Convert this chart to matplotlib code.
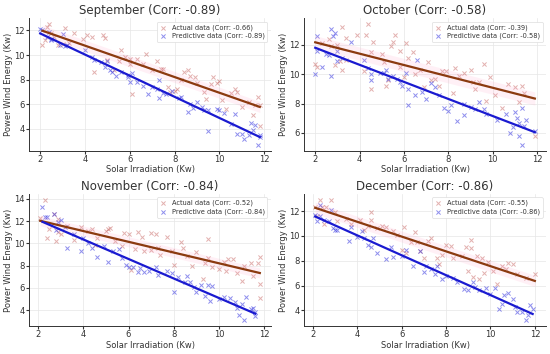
import numpy as np
import matplotlib.pyplot as plt

# (x, y) points for each month
sep_actual_x = [2.1, 2.2, 2.3, 2.4, 2.5, 2.6, 2.8, 3.0, 3.1, 3.3, 3.5, 3.9, 4.1, 4.3, 4.4, 4.8, 4.9, 5.0, 5.3, 5.5,
                5.6, 5.8, 6.0, 6.0, 6.1, 6.3, 6.6, 6.7, 7.0, 7.2, 7.4, 7.5, 7.7, 7.8, 8.0, 8.1, 8.3, 8.4, 8.6, 8.7,
                8.9, 9.0, 9.3, 9.4, 9.6, 9.7, 9.9, 10.0, 10.1, 10.3, 10.5, 10.7, 10.8, 11.0, 11.3, 11.5, 11.6, 11.7, 11.8, 11.8]
sep_actual_y = [10.8, 11.2, 12.3, 12.5, 11.8, 11.5, 10.8, 10.9, 12.2, 11.0, 11.8, 11.3, 11.6, 11.5, 8.6, 11.6, 11.4, 9.6, 8.8, 9.5,
                10.4, 9.8, 9.7, 9.3, 6.8, 9.7, 9.3, 10.1, 8.8, 9.5, 8.9, 8.9, 7.4, 7.0, 7.1, 7.2, 8.0, 8.6, 8.8, 8.3,
                8.2, 7.7, 7.0, 6.4, 7.6, 8.2, 7.7, 7.9, 6.3, 5.6, 6.9, 7.2, 7.0, 5.8, 6.2, 5.1, 5.9, 6.6, 5.9, 4.2]
sep_pred_x = [2.0, 2.1, 2.3, 2.4, 2.5, 2.5, 2.9, 3.0, 3.1, 3.2, 4.0, 4.3, 4.4, 4.7, 4.9, 5.0, 5.1, 5.2, 5.4, 5.6,
              5.9, 5.9, 6.0, 6.1, 6.3, 6.6, 6.8, 7.0, 7.2, 7.3, 7.3, 7.5, 7.6, 7.9, 8.2, 8.3, 8.6, 8.7, 8.8, 9.0,
              9.2, 9.3, 9.5, 9.5, 9.9, 10.0, 10.2, 10.5, 10.7, 10.8, 11.0, 11.1, 11.3, 11.4, 11.5, 11.6, 11.7, 11.8, 11.8]
sep_pred_y = [12.1, 12.0, 11.5, 11.9, 11.3, 11.2, 10.8, 11.7, 10.7, 10.8, 10.4, 9.8, 9.6, 9.4, 9.0, 9.5, 8.8, 8.6, 8.3, 8.6,
              8.4, 8.2, 7.8, 8.5, 7.8, 7.5, 6.8, 7.4, 7.2, 6.5, 8.0, 6.9, 6.8, 7.1, 6.5, 6.6, 5.4, 6.0, 5.7, 6.2,
              5.8, 5.5, 5.5, 3.8, 5.6, 5.5, 5.3, 4.4, 5.2, 3.6, 3.6, 3.2, 3.5, 4.5, 3.9, 4.3, 2.7, 3.3, 3.5]

oct_actual_x = [2.0, 2.1, 2.3, 2.6, 2.7, 2.9, 3.0, 3.1, 3.2, 3.2, 3.4, 3.4, 3.9, 4.2, 4.3, 4.4, 4.5, 4.5, 4.6, 5.0,
                5.1, 5.2, 5.3, 5.4, 5.5, 5.6, 5.8, 5.8, 6.0, 6.1, 6.2, 6.4, 6.5, 6.7, 6.9, 7.1, 7.2, 7.4, 7.6, 7.7,
                7.9, 8.2, 8.3, 8.5, 8.7, 9.0, 9.1, 9.2, 9.4, 9.6, 9.7, 9.9, 10.1, 10.4, 10.7, 11.0, 11.2, 11.3, 11.4, 11.9]
oct_actual_y = [10.7, 10.5, 12.1, 12.4, 11.9, 10.6, 12.0, 10.9, 10.3, 13.2, 12.5, 11.0, 12.7, 10.2, 12.7, 13.4, 11.5, 9.0, 12.2, 11.4,
                10.8, 9.2, 9.6, 11.9, 12.2, 12.7, 11.6, 10.5, 9.8, 12.1, 11.1, 11.5, 10.0, 10.3, 9.1, 10.8, 9.6, 9.7, 9.2, 10.2,
                10.2, 8.7, 10.4, 9.9, 10.1, 10.3, 9.5, 9.0, 9.5, 10.7, 8.2, 9.8, 8.6, 7.7, 9.3, 9.1, 8.1, 9.2, 8.7, 5.8]
oct_pred_x = [2.0, 2.1, 2.1, 2.3, 2.5, 2.6, 2.7, 2.7, 2.8, 2.9, 3.0, 3.0, 3.2, 3.6, 4.2, 4.4, 4.5, 4.5, 4.9, 5.1,
              5.2, 5.3, 5.5, 5.7, 5.8, 5.9, 6.1, 6.2, 6.2, 6.5, 6.6, 6.8, 7.0, 7.2, 7.4, 7.6, 7.8, 8.0, 8.1, 8.4,
              8.7, 8.7, 9.0, 9.2, 9.4, 9.6, 9.7, 10.2, 10.6, 10.8, 10.9, 11.0, 11.1, 11.2, 11.2, 11.3, 11.3, 11.4, 11.5, 11.9]
oct_pred_y = [10.0, 11.6, 12.6, 10.5, 11.4, 11.3, 13.1, 9.9, 12.6, 12.8, 11.6, 10.9, 11.1, 12.2, 11.0, 10.4, 10.0, 9.6, 10.1, 10.1,
              10.3, 9.7, 9.9, 9.7, 9.5, 9.2, 10.1, 7.9, 9.0, 8.6, 11.0, 8.8, 8.3, 9.4, 9.1, 8.6, 7.7, 7.5, 7.9, 6.8,
              7.2, 8.0, 7.8, 7.6, 8.1, 7.6, 7.3, 6.9, 7.3, 6.0, 6.4, 7.4, 7.0, 6.7, 5.8, 5.2, 7.7, 6.5, 6.9, 6.1]

nov_actual_x = [2.1, 2.3, 2.4, 2.5, 2.7, 2.8, 2.9, 2.9, 3.0, 3.3, 3.6, 3.9, 4.2, 4.4, 4.5, 4.6, 5.0, 5.1, 5.2, 5.4,
                5.7, 5.8, 6.0, 6.1, 6.3, 6.4, 6.6, 6.7, 7.0, 7.0, 7.2, 7.3, 7.4, 7.7, 7.9, 8.0, 8.3, 8.4, 8.6, 8.8,
                9.0, 9.3, 9.4, 9.5, 9.5, 9.7, 10.0, 10.2, 10.3, 10.4, 10.6, 10.8, 11.0, 11.1, 11.4, 11.5, 11.7, 11.8, 11.8, 11.8]
nov_actual_y = [12.3, 13.9, 10.5, 11.3, 12.6, 10.2, 12.2, 11.0, 10.8, 11.6, 10.3, 11.5, 11.1, 11.3, 9.9, 10.5, 11.1, 11.3, 11.4, 10.2,
                9.8, 10.9, 10.8, 7.6, 9.5, 11.0, 10.6, 9.3, 9.4, 10.9, 10.8, 9.6, 9.0, 10.6, 9.3, 8.1, 10.1, 9.6, 8.9, 8.0,
                9.2, 6.8, 8.2, 10.4, 8.7, 7.9, 7.7, 8.3, 7.5, 8.6, 8.6, 7.3, 6.6, 8.0, 8.2, 7.1, 8.2, 8.8, 6.4, 5.1]
nov_pred_x = [2.2, 2.3, 2.4, 2.7, 2.8, 2.9, 3.0, 3.2, 3.3, 3.6, 3.9, 4.0, 4.2, 4.4, 4.6, 4.9, 5.1, 5.3, 5.6, 5.7,
              5.9, 6.0, 6.2, 6.4, 6.5, 6.7, 6.9, 7.2, 7.3, 7.7, 7.9, 8.0, 8.2, 8.5, 8.6, 8.7, 8.9, 9.0, 9.2, 9.4,
              9.5, 9.6, 9.7, 10.0, 10.2, 10.5, 10.7, 10.8, 10.9, 11.0, 11.1, 11.2, 11.4, 11.5, 11.6, 11.6]
nov_pred_y = [13.3, 12.4, 12.4, 12.6, 11.2, 11.9, 12.1, 11.5, 9.6, 10.8, 9.3, 10.5, 10.0, 9.6, 8.8, 9.8, 8.3, 9.3, 9.5, 8.7,
              8.1, 7.9, 7.9, 7.4, 7.8, 7.4, 7.5, 7.9, 7.2, 7.5, 7.3, 5.6, 7.0, 6.5, 7.1, 6.5, 6.1, 5.6, 6.3, 5.3,
              6.3, 4.8, 6.2, 5.0, 5.2, 5.1, 4.7, 4.2, 3.6, 4.6, 3.1, 5.2, 4.1, 4.2, 3.5, 3.8]

dec_actual_x = [2.1, 2.2, 2.3, 2.4, 2.5, 2.6, 2.8, 3.0, 3.1, 3.5, 3.7, 4.1, 4.3, 4.5, 4.6, 4.6, 4.9, 5.1, 5.3, 5.6,
                5.8, 6.0, 6.1, 6.2, 6.4, 6.6, 6.7, 6.8, 7.0, 7.2, 7.3, 7.6, 7.7, 7.8, 8.0, 8.2, 8.3, 8.7, 8.9, 9.0,
                9.1, 9.1, 9.2, 9.4, 9.5, 9.6, 9.7, 9.9, 10.1, 10.3, 10.5, 10.7, 10.8, 11.0, 11.2, 11.6, 12.0]
dec_actual_y = [12.3, 11.6, 12.9, 12.3, 11.0, 12.3, 12.9, 11.9, 11.2, 11.4, 11.0, 11.3, 10.5, 10.8, 11.9, 11.3, 10.6, 10.8, 10.7, 10.4,
                10.1, 8.9, 10.7, 8.6, 9.5, 10.3, 9.5, 8.8, 8.2, 9.6, 9.8, 8.2, 7.7, 8.5, 9.3, 9.2, 8.2, 8.4, 9.1, 7.2,
                9.7, 9.0, 6.7, 8.4, 6.5, 8.2, 7.0, 7.9, 7.2, 6.1, 7.6, 7.3, 7.8, 7.7, 6.9, 6.6, 6.9]
dec_pred_x = [2.1, 2.2, 2.3, 2.3, 2.5, 2.7, 2.8, 2.9, 3.0, 3.1, 3.6, 3.7, 4.0, 4.2, 4.3, 4.5, 4.6, 4.7, 4.9, 5.3,
              5.5, 5.6, 6.0, 6.2, 6.5, 6.8, 7.0, 7.1, 7.3, 7.5, 7.6, 7.8, 8.0, 8.3, 8.5, 8.8, 9.0, 9.2, 9.3, 9.5,
              9.8, 10.0, 10.2, 10.4, 10.5, 10.6, 10.8, 11.0, 11.1, 11.2, 11.4, 11.6, 11.7, 11.8, 11.9]
dec_pred_y = [11.7, 11.2, 12.5, 11.6, 11.3, 11.2, 12.1, 10.6, 10.5, 10.5, 9.6, 10.7, 9.9, 10.4, 9.8, 9.3, 9.1, 9.8, 8.6, 8.1,
              9.1, 8.3, 8.4, 8.9, 7.6, 8.8, 7.1, 7.6, 7.3, 6.9, 7.6, 6.5, 6.8, 6.6, 6.3, 5.7, 5.6, 6.3, 5.9, 5.6,
              5.8, 5.3, 5.8, 4.1, 4.5, 5.2, 5.4, 4.9, 4.3, 3.9, 3.9, 3.2, 3.6, 4.4, 4.1]

months = ["September", "October", "November", "December"]
title_corr = [-0.89, -0.58, -0.84, -0.86]
actual_corr = [-0.66, -0.39, -0.52, -0.55]
pred_corr = [-0.89, -0.58, -0.84, -0.86]
actual_x = [sep_actual_x, oct_actual_x, nov_actual_x, dec_actual_x]
actual_y = [sep_actual_y, oct_actual_y, nov_actual_y, dec_actual_y]
pred_x = [sep_pred_x, oct_pred_x, nov_pred_x, dec_pred_x]
pred_y = [sep_pred_y, oct_pred_y, nov_pred_y, dec_pred_y]

fig, axes = plt.subplots(2, 2, figsize=(5.5, 3.54), dpi=100)

for i, ax in enumerate(axes.flat):
    ax_x = np.array(actual_x[i])
    ax_y = np.array(actual_y[i])
    px = np.array(pred_x[i])
    py = np.array(pred_y[i])

    ax.scatter(ax_x, ax_y, marker='x', s=9, linewidths=0.7, color='#c0504d', alpha=0.45,
               label=f"Actual data (Corr: {actual_corr[i]:.2f})")
    ax.scatter(px, py, marker='x', s=9, linewidths=0.7, color='#3030e0', alpha=0.55,
               label=f"Predictive data (Corr: {pred_corr[i]:.2f})")

    # fitted lines
    m, b = np.polyfit(ax_x, ax_y, 1)
    xs = np.array([ax_x.min(), ax_x.max()])
    ax.fill_between(xs, m * xs + b - 0.45, m * xs + b + 0.45, color='#ff9ec4', alpha=0.15, lw=0)
    ax.plot(xs, m * xs + b, color='#8b3a0f', lw=1.6)
    m, b = np.polyfit(px, py, 1)
    xs = np.array([px.min(), px.max()])
    ax.plot(xs, m * xs + b, color='#1a1ad0', lw=1.6)

    ax.set_title(f"{months[i]} (Corr: {title_corr[i]:.2f})", fontsize=8.5, color='#333333', pad=3)
    ax.set_xlabel("Solar Irradiation (Kw)", fontsize=6, color='#333333', labelpad=1)
    ax.set_ylabel("Power Wind Energy (Kw)", fontsize=6, color='#333333', labelpad=1)
    ax.set_xticks([2, 4, 6, 8, 10, 12])
    ax.tick_params(labelsize=6, length=2, pad=1, colors='#333333')
    ax.grid(True, color='#e6e6e6', lw=0.5)
    ax.set_axisbelow(True)
    for s in ['top', 'right']:
        ax.spines[s].set_visible(False)
    for s in ['left', 'bottom']:
        ax.spines[s].set_color('#333333')
        ax.spines[s].set_linewidth(0.7)
    leg = ax.legend(loc='upper right', fontsize=4.8, handlelength=1, borderpad=0.4,
                    labelspacing=0.3, framealpha=1)
    leg.get_frame().set_edgecolor('#dddddd')
    leg.get_frame().set_linewidth(0.5)
    for t in leg.get_texts():
        t.set_color('#333333')

plt.tight_layout(pad=0.3, h_pad=0.4, w_pad=0.6)
plt.savefig("out.png")
